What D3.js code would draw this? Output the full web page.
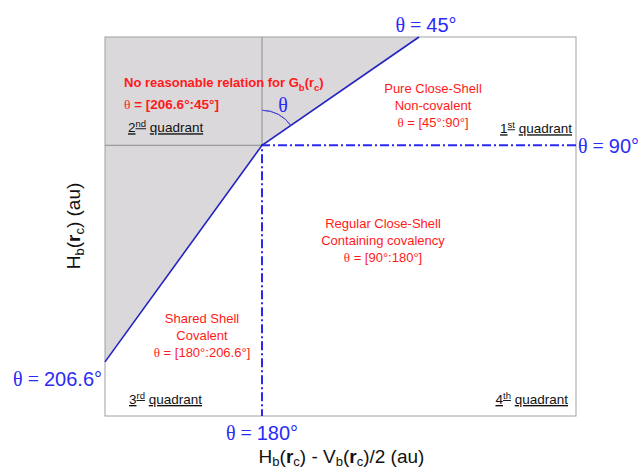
<!DOCTYPE html>
<html>
<head>
<meta charset="utf-8">
<script src="https://cdn.jsdelivr.net/npm/d3@7"></script>
<style>
  body { margin: 0; background: #fff; }
  text { font-family: "Liberation Sans", Arial, sans-serif; }
  .serif { font-family: "Liberation Serif", "Times New Roman", serif; }
  .ul { text-decoration: underline; }
</style>
</head>
<body>
<svg id="chart"></svg>
<script>
var width = 638;
var height = 471;

// domain of the sketch (origin where the four regions meet)
var xDomain = [-1, 2];
var yDomain = [-2.5, 1];

// shaded "no reasonable relation" region
var shadeX = [-1, 1, 0, -1];
var shadeY = [1, 1, 0, -2];

// solid boundary through the origin (45 deg ray and 206.6 deg ray)
var boundaryX = [1, 0, -1];
var boundaryY = [1, 0, -2];

// dash-dot rays (90 deg and 180 deg)
var rayX = [2, 0, 0];
var rayY = [0, 0, -2.5];

var angleLabels = ['45°', '90°', '180°', '206.6°'];
var quadrantNums = ['1', '2', '3', '4'];
var quadrantSups = ['st', 'nd', 'rd', 'th'];
var firstLines = ['Pure Close-Shell', 'Non-covalent'];
var fourthLines = ['Regular Close-Shell', 'Containing covalency'];
var thirdLines = ['Shared Shell', 'Covalent'];
var ranges = ['[45°:90°]', '[90°:180°]', '[180°:206.6°]', '[206.6°:45°]'];

var margin = {top: 37, right: 62, bottom: 55, left: 105};

var svg = d3.select('#chart').attr('width', width).attr('height', height);

var x = d3.scaleLinear().domain(xDomain).range([margin.left, width - margin.right]);
var y = d3.scaleLinear().domain(yDomain).range([height - margin.bottom, margin.top]);

var line = d3.line()
  .x(function(d) { return x(d[0]); })
  .y(function(d) { return y(d[1]); });

var blueLine = '#2323c4';
var blueText = '#2b2bf5';
var redText = '#ff1a1a';

// shaded region
svg.append('path')
  .datum(d3.zip(shadeX, shadeY))
  .attr('d', function(d) { return line(d) + 'Z'; })
  .attr('fill', '#dbd8db');

// gray guides inside shaded area
svg.append('path')
  .datum([[0, 1], [0, 0], [-1, 0]])
  .attr('d', line)
  .attr('fill', 'none')
  .attr('stroke', '#8c8c8c')
  .attr('stroke-width', 1);

// frame
svg.append('rect')
  .attr('x', x(xDomain[0]))
  .attr('y', y(yDomain[1]))
  .attr('width', x(xDomain[1]) - x(xDomain[0]))
  .attr('height', y(yDomain[0]) - y(yDomain[1]))
  .attr('fill', 'none')
  .attr('stroke', '#a0a0a0')
  .attr('stroke-width', 1);

// dash-dot rays
svg.append('path')
  .datum(d3.zip(rayX, rayY))
  .attr('d', line)
  .attr('fill', 'none')
  .attr('stroke', '#2a2aee')
  .attr('stroke-width', 2)
  .attr('stroke-dasharray', '9,3,2,3');

// boundary
svg.append('path')
  .datum(d3.zip(boundaryX, boundaryY))
  .attr('d', line)
  .attr('fill', 'none')
  .attr('stroke', blueLine)
  .attr('stroke-width', 1.6);

// theta arc
var ox = x(0), oy = y(0);
var arcAngle = Math.atan2(x(1) - ox, oy - y(1));
svg.append('path')
  .attr('d', d3.arc().innerRadius(35).outerRadius(35).startAngle(0).endAngle(arcAngle)())
  .attr('transform', 'translate(' + ox + ',' + oy + ')')
  .attr('fill', 'none')
  .attr('stroke', '#4b4bd6')
  .attr('stroke-width', 1);
svg.append('text').attr('class', 'serif')
  .attr('x', ox + 21).attr('y', oy - 33)
  .attr('font-size', 20).attr('fill', blueText)
  .attr('text-anchor', 'middle')
  .text('θ');

// angle labels
function thetaLabel(px, py, txt, anchor) {
  var t = svg.append('text')
    .attr('x', px).attr('y', py)
    .attr('font-size', 20)
    .attr('fill', blueText)
    .attr('text-anchor', anchor);
  t.append('tspan').attr('class', 'serif').text('θ = ');
  t.append('tspan').text(txt);
}
thetaLabel(x(1) + 7, y(1) - 5, angleLabels[0], 'middle');
thetaLabel(x(2) + 2, y(0) + 8, angleLabels[1], 'start');
thetaLabel(x(0), y(-2.5) + 24, angleLabels[2], 'middle');
thetaLabel(x(-1) - 3, y(-2) + 24, angleLabels[3], 'end');

// quadrant labels
function quadrant(i, px, py, anchor) {
  var t = svg.append('text')
    .attr('x', px).attr('y', py)
    .attr('font-size', 13.5)
    .attr('fill', '#111')
    .attr('text-anchor', anchor);
  t.append('tspan').attr('class', 'ul').text(quadrantNums[i]);
  t.append('tspan').attr('class', 'ul').attr('font-size', 9.5).attr('dy', -5).text(quadrantSups[i]);
  t.append('tspan').attr('dy', 5).text(' ');
  t.append('tspan').attr('class', 'ul').text('quadrant');
}
quadrant(0, x(2) - 4, y(0) - 12, 'end');
quadrant(1, x(-1) + 23, y(0) - 13, 'start');
quadrant(2, x(-1) + 24, y(-2.5) - 12, 'start');
quadrant(3, x(2) - 8, y(-2.5) - 12, 'end');

// region descriptions
function block(lines, range, cx, cy) {
  var t = svg.append('text')
    .attr('font-size', 13)
    .attr('fill', redText)
    .attr('text-anchor', 'middle');
  lines.forEach(function(s, i) {
    t.append('tspan').attr('x', cx).attr('y', cy + i * 17).text(s);
  });
  var r = t.append('tspan').attr('x', cx).attr('y', cy + lines.length * 17);
  r.append('tspan').attr('class', 'serif').text('θ');
  r.append('tspan').text(' = ' + range);
}
block(firstLines, ranges[0], 433, 93);
block(fourthLines, ranges[1], 383, 228);
block(thirdLines, ranges[2], 202, 323);

// second quadrant note
var note = svg.append('text')
  .attr('x', x(-1) + 19).attr('y', y(0) - 58)
  .attr('font-size', 13).attr('font-weight', 'bold')
  .attr('fill', redText);
note.append('tspan').text('No reasonable relation for G');
note.append('tspan').attr('font-size', 9.5).attr('dy', 4).text('b');
note.append('tspan').attr('dy', -4).text('(r');
note.append('tspan').attr('font-size', 9.5).attr('dy', 4).text('c');
note.append('tspan').attr('dy', -4).text(')');
var note2 = svg.append('text')
  .attr('x', x(-1) + 19).attr('y', y(0) - 36)
  .attr('font-size', 13.5).attr('font-weight', 'bold')
  .attr('fill', redText);
note2.append('tspan').attr('class', 'serif').attr('font-weight', 'normal').text('θ');
note2.append('tspan').text(' = ' + ranges[3]);

// axis titles
var xt = svg.append('text')
  .attr('x', (x(xDomain[0]) + x(xDomain[1])) / 2 + 1)
  .attr('y', height - 8)
  .attr('font-size', 19).attr('fill', '#111')
  .attr('text-anchor', 'middle');
xt.append('tspan').text('H');
xt.append('tspan').attr('font-size', 13).attr('dy', 3).text('b');
xt.append('tspan').attr('dy', -3).text('(');
xt.append('tspan').attr('font-weight', 'bold').text('r');
xt.append('tspan').attr('font-size', 13).attr('dy', 3).text('c');
xt.append('tspan').attr('dy', -3).text(') - V');
xt.append('tspan').attr('font-size', 13).attr('dy', 3).text('b');
xt.append('tspan').attr('dy', -3).text('(');
xt.append('tspan').attr('font-weight', 'bold').text('r');
xt.append('tspan').attr('font-size', 13).attr('dy', 3).text('c');
xt.append('tspan').attr('dy', -3).text(')/2 (au)');

var yt = svg.append('text')
  .attr('transform', 'translate(80,226) rotate(-90)')
  .attr('font-size', 19).attr('fill', '#111')
  .attr('text-anchor', 'middle');
yt.append('tspan').text('H');
yt.append('tspan').attr('font-size', 13).attr('dy', 4).text('b');
yt.append('tspan').attr('dy', -4).text('(');
yt.append('tspan').attr('font-weight', 'bold').text('r');
yt.append('tspan').attr('font-size', 13).attr('dy', 4).text('c');
yt.append('tspan').attr('dy', -4).text(') (au)');
</script>
</body>
</html>
